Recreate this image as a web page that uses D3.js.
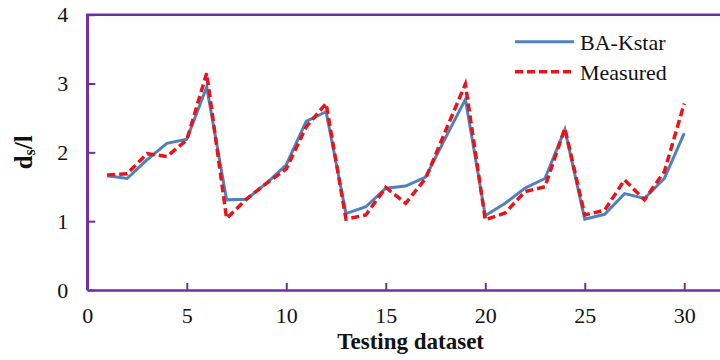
<!DOCTYPE html>
<html>
<head>
<meta charset="utf-8">
<script src="https://cdn.jsdelivr.net/npm/d3@7"></script>
<style>
  html, body { margin: 0; padding: 0; background: #fff; }
  svg { display: block; overflow: hidden; }
  text { font-family: "Liberation Serif", "Times New Roman", serif; fill: #111; }
</style>
</head>
<body>
<svg id="chart" width="720" height="360"></svg>
<script>
// Testing samples 1..30
const samples = d3.range(1, 31);
// Predicted d_s/l from the BA-Kstar model
const baKstar = [1.66, 1.62, 1.89, 2.13, 2.19, 2.95, 1.31, 1.32, 1.55, 1.82,
                 2.45, 2.59, 1.11, 1.21, 1.48, 1.51, 1.64, 2.21, 2.77, 1.08,
                 1.26, 1.48, 1.62, 2.33, 1.03, 1.10, 1.40, 1.33, 1.62, 2.28];
// Measured d_s/l
const measured = [1.67, 1.69, 1.98, 1.94, 2.18, 3.15, 1.04, 1.32, 1.55, 1.76,
                  2.37, 2.71, 1.03, 1.09, 1.49, 1.26, 1.62, 2.31, 2.99, 1.02,
                  1.12, 1.43, 1.50, 2.35, 1.09, 1.16, 1.60, 1.31, 1.72, 2.71];
const xTicks = [0, 5, 10, 15, 20, 25, 30];
const yTicks = [0, 1, 2, 3, 4];
const seriesNames = ["BA-Kstar", "Measured"];

const svg = d3.select("#chart");
const mLeft = 87.3, mTop = 14.7, mBottom = 290, mRight = 734;
const axisColor = "#7030A0";

const x = d3.scaleLinear().domain([0, 32.5]).range([mLeft, mRight]);
const y = d3.scaleLinear().domain([0, 4]).range([mBottom, mTop]);

// frame: left axis, bottom axis, top border
svg.append("path")
  .attr("d", `M${mLeft},${mBottom} L${mLeft},${mTop} L${mRight},${mTop}`)
  .attr("fill", "none").attr("stroke", axisColor).attr("stroke-width", 2.5);

// x axis with inward ticks
const gx = svg.append("g").attr("transform", `translate(0,${mBottom})`)
  .call(d3.axisBottom(x).tickValues(xTicks).tickFormat(d3.format("d"))
    .tickSizeInner(-7).tickSizeOuter(0).tickPadding(17));
gx.select(".domain").attr("stroke", axisColor).attr("stroke-width", 2.5);
gx.selectAll(".tick line").attr("stroke", axisColor).attr("stroke-width", 2);
gx.selectAll(".tick text").attr("font-size", 22).attr("font-family", "Liberation Serif").attr("fill", "#111");

// y axis with inward ticks
const gy = svg.append("g").attr("transform", `translate(${mLeft},0)`)
  .call(d3.axisLeft(y).tickValues(yTicks).tickFormat(d3.format("d"))
    .tickSizeInner(-8).tickSizeOuter(0).tickPadding(19));
gy.select(".domain").attr("stroke", axisColor).attr("stroke-width", 2.5);
gy.selectAll(".tick line").attr("stroke", axisColor).attr("stroke-width", 2);
gy.selectAll(".tick text").attr("font-size", 22).attr("font-family", "Liberation Serif").attr("fill", "#111");

// series lines
const line = d3.line().x((d, i) => x(samples[i])).y(d => y(d));
svg.append("path").datum(baKstar).attr("d", line)
  .attr("fill", "none").attr("stroke", "#4F81BD").attr("stroke-width", 3)
  .attr("stroke-linejoin", "miter");
svg.append("path").datum(measured).attr("d", line)
  .attr("fill", "none").attr("stroke", "#E8141C").attr("stroke-width", 3.5)
  .attr("stroke-dasharray", "8,4");

// legend
const legend = svg.append("g");
const lg = [
  { name: seriesNames[0], color: "#4F81BD", dash: null, w: 3, ly: 41.7, ty: 50 },
  { name: seriesNames[1], color: "#E8141C", dash: "8,4", w: 3.5, ly: 71.7, ty: 80 }
];
lg.forEach(d => {
  legend.append("line").attr("x1", 515).attr("x2", 574).attr("y1", d.ly).attr("y2", d.ly)
    .attr("stroke", d.color).attr("stroke-width", d.w)
    .attr("stroke-dasharray", d.dash);
  legend.append("text").attr("x", 580).attr("y", d.ty).attr("font-size", 22).text(d.name);
});

// axis titles
svg.append("text").attr("x", (mLeft + mRight) / 2).attr("y", 349)
  .attr("text-anchor", "middle").attr("font-size", 23).attr("font-weight", "bold")
  .text("Testing dataset");

const yt = svg.append("text")
  .attr("transform", `translate(32,${(mTop + mBottom) / 2}) rotate(-90)`)
  .attr("text-anchor", "middle").attr("font-size", 25).attr("font-weight", "bold");
yt.append("tspan").text("d");
yt.append("tspan").attr("font-size", 16).attr("dy", 3).text("s");
yt.append("tspan").attr("dy", -3).text("/l");
</script>
</body>
</html>
